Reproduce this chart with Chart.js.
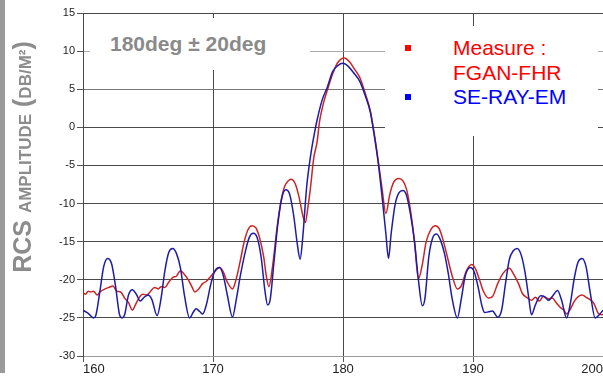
<!DOCTYPE html>
<html>
<head>
<meta charset="utf-8">
<script src="https://cdn.jsdelivr.net/npm/chart.js@4.4.1/dist/chart.umd.min.js"></script>
<style>
html, body { margin: 0; padding: 0; background: #fff; }
#wrap { position: relative; width: 603px; height: 383px; overflow: hidden; font-family: "Liberation Sans", Arial, sans-serif; }
#chart { position: absolute; left: 0; top: 0; }
#bar { position: absolute; left: 0; top: 0; width: 5px; height: 373px; background: #9a9a9a; }
#ytitle { position: absolute; left: 22px; top: 157px; transform: translate(-50%, -50%) rotate(-90deg); white-space: nowrap; color: #8c8c8c; font-weight: bold; font-size: 25px; }
#ytitle .sc { font-size: 17px; }
#title { position: absolute; left: 90px; top: 18px; width: 220px; height: 52px; background: #fff; }
#title span { position: absolute; left: 20px; top: 0; line-height: 52px; color: #8a8a8a; font-weight: bold; font-size: 21px; white-space: nowrap; }
#legend { position: absolute; left: 385px; top: 26px; width: 213px; height: 110px; background: #fff; }
.lg { position: absolute; left: 68px; font-size: 21px; line-height: 24px; white-space: nowrap; }
.mk { position: absolute; left: 20px; width: 6px; height: 6px; }
</style>
</head>
<body>
<div id="wrap">
  <canvas id="chart" width="603" height="383"></canvas>
  <div id="bar"></div>
  <div id="ytitle">RCS <span class="sc">AMPLITUDE</span> (<span class="sc">DB/M²</span>)</div>
  <div id="title"><span>180deg ± 20deg</span></div>
  <div id="legend">
    <div class="mk" style="top:19px;background:#ff0000"></div>
    <div class="lg" style="top:10px;color:#ff0000">Measure :</div>
    <div class="lg" style="top:35px;color:#ff0000">FGAN-FHR</div>
    <div class="mk" style="top:68px;background:#0000ff"></div>
    <div class="lg" style="top:59px;color:#0000ff">SE-RAY-EM</div>
  </div>
</div>
<script>
// angle (deg), rcs (dB/m²)
const fganFhr = [
  [160.0,-21.7],[160.2,-21.9],[160.4,-21.5],[160.6,-21.6],[160.8,-21.5],[161.1,-22.0],[161.3,-21.6],
  [161.7,-21.2],[162.0,-21.0],[162.3,-20.8],[162.6,-21.5],[162.9,-21.6],[163.2,-22.4],[163.5,-23.0],
  [163.8,-24.0],[164.0,-23.4],[164.3,-22.4],[164.6,-21.9],[164.9,-22.0],[165.2,-21.5],[165.5,-21.0],
  [165.8,-21.2],[166.0,-20.9],[166.3,-21.0],[166.6,-20.3],[166.9,-19.7],[167.2,-19.5],[167.5,-18.8],
  [167.8,-19.3],[168.1,-20.0],[168.4,-21.0],[168.6,-21.6],[168.9,-21.2],[169.2,-20.5],[169.5,-20.2],
  [169.8,-19.6],[170.1,-19.0],[170.5,-18.4],[170.8,-19.0],[171.1,-20.3],[171.5,-21.2],[171.8,-19.8],
  [172.1,-17.5],[172.4,-15.0],[172.7,-13.4],[173.0,-12.9],[173.3,-13.2],[173.6,-14.6],[173.9,-17.0],
  [174.1,-19.5],[174.3,-20.9],[174.6,-18.0],[174.9,-13.5],[175.2,-10.0],[175.5,-7.8],[175.8,-7.0],
  [176.0,-6.8],[176.3,-7.3],[176.6,-9.0],[176.9,-11.5],[177.1,-12.5],[177.3,-10.5],[177.5,-7.9],
  [177.75,-4.0],[178.0,-2.0],[178.2,0.8],[178.5,3.2],[178.8,4.9],[179.2,7.0],[179.6,8.5],[180.1,9.1],
  [180.5,8.6],[180.9,7.6],[181.3,6.5],[181.7,4.5],[182.1,2.2],[182.4,-0.8],[182.7,-4.3],[183.0,-8.0],
  [183.3,-11.3],[183.6,-8.8],[183.9,-7.2],[184.3,-6.7],[184.6,-7.0],[184.9,-8.2],[185.2,-11.0],
  [185.5,-15.0],[185.8,-19.9],[186.1,-18.0],[186.4,-15.0],[186.8,-13.3],[187.1,-12.9],[187.4,-13.3],
  [187.7,-14.8],[188.0,-16.8],[188.4,-19.5],[188.8,-21.2],[189.1,-20.8],[189.5,-18.8],[189.9,-18.0],
  [190.2,-18.6],[190.5,-20.0],[190.8,-21.5],[191.2,-22.4],[191.5,-22.2],[191.9,-20.5],[192.3,-19.2],
  [192.8,-18.5],[193.1,-19.2],[193.5,-20.5],[193.8,-21.8],[194.2,-22.4],[194.5,-22.7],[194.8,-22.3],
  [195.1,-22.8],[195.4,-22.2],[195.8,-22.5],[196.1,-22.4],[196.4,-23.0],[196.7,-23.6],[197.0,-24.0],
  [197.2,-24.5],[197.5,-23.8],[197.8,-22.8],[198.1,-22.2],[198.4,-22.0],[198.7,-22.3],[199.0,-22.6],
  [199.3,-23.1],[199.6,-24.3],[199.9,-24.6],[200.0,-24.5]
];

const seRayEm = [
  [160.0,-24.0],[160.4,-24.4],[160.8,-25.0],[161.0,-24.6],[161.3,-21.5],[161.6,-18.2],[161.9,-17.2],
  [162.2,-17.9],[162.5,-20.8],[162.8,-24.5],[163.0,-25.0],[163.2,-24.6],[163.5,-22.0],[163.8,-21.3],
  [164.1,-21.9],[164.4,-22.8],[164.7,-22.3],[165.0,-22.0],[165.3,-22.6],[165.7,-24.7],[166.0,-22.5],
  [166.3,-18.8],[166.6,-16.4],[166.9,-15.9],[167.2,-16.6],[167.5,-18.5],[167.8,-22.0],[168.2,-25.0],
  [168.5,-24.2],[168.7,-23.8],[169.0,-24.2],[169.2,-24.5],[169.5,-23.2],[169.8,-20.8],[170.1,-19.0],
  [170.5,-18.4],[170.8,-19.5],[171.1,-22.0],[171.5,-24.9],[171.8,-22.5],[172.1,-19.5],[172.5,-16.2],
  [172.8,-14.4],[173.1,-13.9],[173.4,-14.5],[173.7,-17.0],[174.0,-21.5],[174.2,-23.3],[174.4,-22.6],
  [174.7,-17.5],[175.0,-12.5],[175.3,-9.2],[175.6,-8.2],[175.9,-8.8],[176.2,-11.5],[176.5,-15.5],
  [176.7,-17.3],[176.9,-14.5],[177.2,-7.9],[177.5,-3.8],[177.8,-0.8],[178.0,0.9],[178.4,3.6],
  [178.8,5.3],[179.2,7.3],[179.6,8.1],[180.0,8.4],[180.4,8.0],[180.8,7.2],[181.3,6.0],[181.7,4.2],
  [182.1,2.0],[182.4,-1.0],[182.7,-4.5],[183.0,-9.0],[183.3,-14.0],[183.5,-17.2],[183.7,-14.0],
  [184.0,-10.2],[184.3,-8.6],[184.6,-8.3],[184.9,-9.0],[185.2,-11.5],[185.5,-15.0],[185.8,-20.0],
  [186.1,-23.4],[186.3,-22.5],[186.6,-17.0],[186.9,-14.5],[187.2,-14.0],[187.5,-14.8],[187.8,-16.5],
  [188.1,-19.2],[188.4,-22.5],[188.8,-25.0],[189.1,-22.5],[189.4,-19.5],[189.8,-18.4],[190.1,-19.0],
  [190.4,-21.0],[190.7,-23.5],[190.9,-24.3],[191.2,-24.2],[191.5,-24.1],[191.9,-24.9],[192.2,-24.0],
  [192.5,-20.5],[192.8,-17.3],[193.1,-16.2],[193.4,-15.9],[193.7,-16.7],[194.0,-19.0],[194.3,-22.5],
  [194.5,-24.6],[194.8,-23.3],[195.2,-22.1],[195.5,-22.2],[195.8,-22.7],[196.1,-22.2],[196.5,-21.4],
  [196.8,-22.6],[197.2,-25.0],[197.5,-23.0],[197.8,-19.7],[198.1,-17.6],[198.4,-17.2],[198.7,-18.3],
  [199.0,-21.5],[199.4,-25.0],[199.7,-24.6],[200.0,-24.0]
];

const xRange = [160, 200];
const yRange = [-30, 15];

const FONT = '"Liberation Sans", Arial, sans-serif';
const toPoints = arr => arr.map(p => ({ x: p[0], y: p[1] }));

new Chart(document.getElementById('chart'), {
  type: 'scatter',
  data: {
    datasets: [
      { label: 'SE-RAY-EM', data: toPoints(seRayEm), borderColor: '#1c1ca8', order: 0 },
      { label: 'Measure : FGAN-FHR', data: toPoints(fganFhr), borderColor: '#cc2424', order: 1 }
    ]
  },
  options: {
    responsive: false,
    devicePixelRatio: 1,
    animation: false,
    showLine: true,
    layout: { padding: { top: 13, right: 0, left: 0, bottom: 0 } },
    elements: {
      point: { radius: 0 },
      line: { borderWidth: 1.5, cubicInterpolationMode: 'monotone' }
    },
    plugins: { legend: { display: false }, tooltip: { enabled: false } },
    scales: {
      x: {
        type: 'linear', min: xRange[0], max: xRange[1],
        ticks: { stepSize: 10, align: 'inner', padding: 0, color: '#222', font: { family: FONT, size: 13 } },
        grid: { color: '#4a4a4a', tickColor: '#555', tickLength: 6 },
        border: { color: '#999' },
        afterFit: s => { s.height = 27; }
      },
      y: {
        min: yRange[0], max: yRange[1],
        ticks: { stepSize: 5, padding: 2, color: '#222', font: { family: FONT, size: 11 } },
        grid: {
          color: c => c.tick.value === 10 ? '#aaa' : c.tick.value === 5 ? '#777' : c.tick.value === -30 ? '#999' : '#4a4a4a',
          tickColor: '#555', tickLength: 6
        },
        border: { color: '#4a4a4a' },
        afterFit: s => { s.width = 83; }
      }
    }
  }
});
</script>
</body>
</html>
